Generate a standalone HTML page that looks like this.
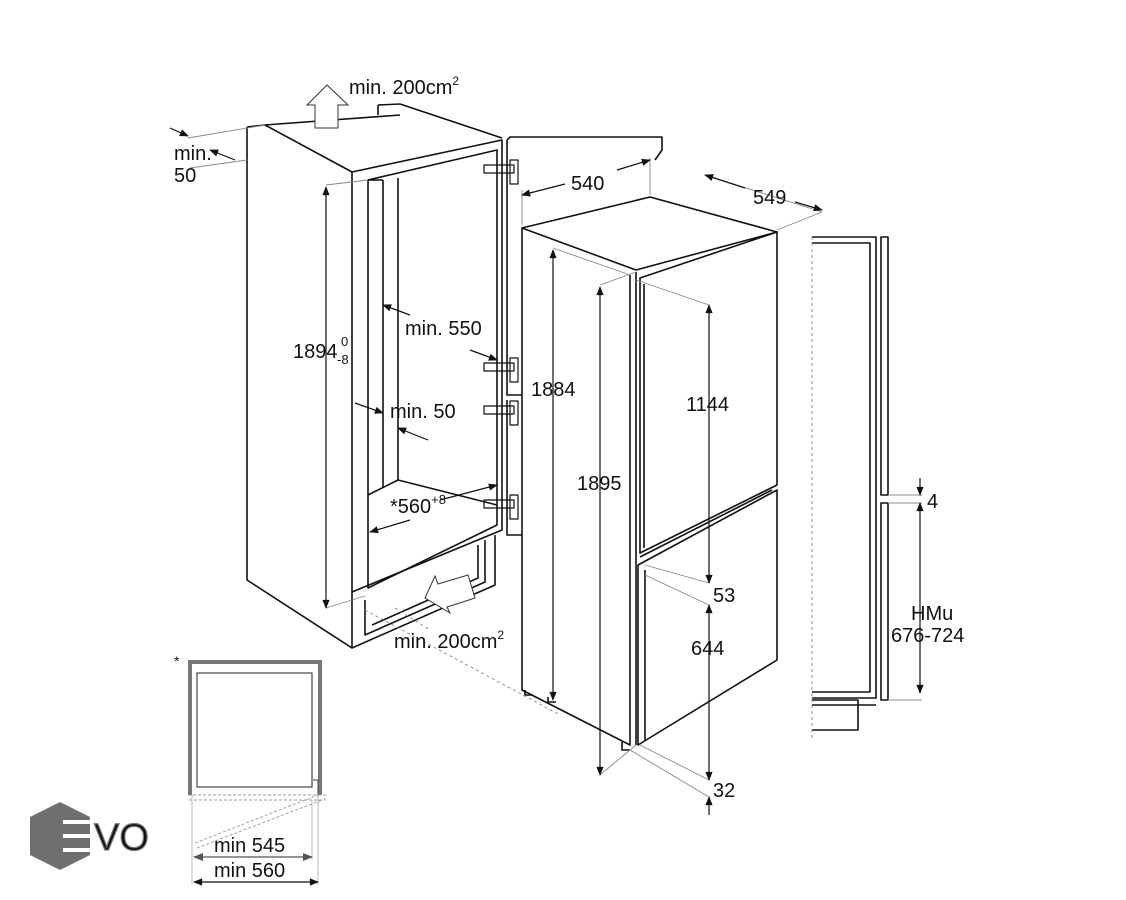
<!DOCTYPE html>
<html><head><meta charset="utf-8"><style>
html,body{margin:0;padding:0;background:#fff;}
svg{display:block;}
text{font-family:"Liberation Sans",Arial,sans-serif;fill:#111;}
</style></head><body>
<svg width="1126" height="900" viewBox="0 0 1126 900" xmlns="http://www.w3.org/2000/svg">
<defs>
<marker id="a" viewBox="0 0 10 10" refX="9" refY="5" markerWidth="12" markerHeight="9" orient="auto-start-reverse" markerUnits="userSpaceOnUse"><path d="M0,1 L10,5 L0,9 z" fill="#111"/></marker>
<marker id="g" viewBox="0 0 10 10" refX="9" refY="5" markerWidth="14" markerHeight="10" orient="auto-start-reverse" markerUnits="userSpaceOnUse"><path d="M0,1 L10,5 L0,9 z" fill="#555"/></marker>
</defs>
<g fill="none" stroke="#111" stroke-width="1.6" stroke-linejoin="round">
<path d="M247,127 L265,125 L352,172"/>
<path d="M247,127 L247,580 L352,648"/>
<path d="M378,105 L378,115 M378,105 L400,104 L502,138"/>
<path d="M265,125 L400,115"/>
<path d="M352,172 L502,140 L502,530 L352,592 Z"/>
<path d="M368,180 L497,150 L497,525 L368,588 Z"/>
<path d="M383,180 L383,488 M368,180 L383,180"/>
<path d="M398,178 L398,480"/>
<path d="M368,495 L398,480 L497,505"/>
<path d="M352,592 L352,648 L495,585 L495,535"/>
<path d="M365,600 L365,635 L485,582 L485,540 M478,545 L478,578 L372,625"/>
<g stroke-width="1.2">
<rect x="484" y="165" width="30" height="8"/><rect x="510" y="160" width="8" height="24"/>
<rect x="484" y="363" width="30" height="8"/><rect x="510" y="358" width="8" height="24"/>
<rect x="484" y="406" width="30" height="8"/><rect x="510" y="401" width="8" height="24"/>
<rect x="484" y="500" width="30" height="8"/><rect x="510" y="495" width="8" height="24"/>
</g>
<path d="M507,140 L510,137 L662,137 L662,150 L655,160"/>
<path d="M507,140 L507,395 L522,395 M507,400 L507,535 L522,535"/>
<path d="M522,228 L650,197 L777,232 L636,270 Z"/>
<path d="M522,228 L522,690 L630,745 L630,275"/>
<path d="M636,272 L636,745"/>
<path d="M640,278 L777,232 L777,485 L640,553 Z"/>
<path d="M644,284 L644,548"/>
<path d="M638,565 L777,490 L777,660 L638,745 Z"/>
<path d="M645,570 L645,740"/>
<path d="M640,557 L772,490"/>
<path d="M525,690 L525,695 L532,695 M548,697 L548,702 L556,702 M622,742 L622,750 L630,750"/>
<path d="M812,237 L876,237 L876,698 L812,698"/>
<path d="M812,243 L870,243 L870,692 L812,692"/>
<path d="M881,237 L888,237 L888,495 L881,495 Z"/>
<path d="M881,503 L888,503 L888,700 L881,700 Z"/>
<path d="M812,705 L876,705 M812,700 L858,700 L858,730 L812,730"/>
</g>
<g stroke="#888" stroke-width="0.9" fill="none">
<path d="M812,237 L812,740" stroke-dasharray="3,3"/>
<path d="M365,610 L560,715 M395,608 L430,630" stroke-dasharray="3,3"/>
<path d="M522,225 L522,190 M650,195 L650,158 M705,175 L822,212 M777,230 L822,212 M553,248 L630,275"/>
<path d="M600,285 L636,272 M636,280 L709,305 M645,575 L709,605 M645,565 L709,583 M600,775 L636,745 M640,745 L709,780 M630,750 L709,797"/>
<path d="M888,495 L922,495 M888,503 L922,503 M888,700 L922,700"/>
<path d="M326,185 L368,180 M326,608 L365,596"/>
<path d="M188,138 L265,125 M190,168 L247,160"/>
</g>
<g stroke="#111" stroke-width="1.2" fill="none">
<line x1="553" y1="250" x2="553" y2="700" marker-start="url(#a)" marker-end="url(#a)"/>
<line x1="600" y1="287" x2="600" y2="775" marker-start="url(#a)" marker-end="url(#a)"/>
<line x1="709" y1="305" x2="709" y2="583" marker-start="url(#a)" marker-end="url(#a)"/>
<line x1="709" y1="605" x2="709" y2="780" marker-start="url(#a)" marker-end="url(#a)"/>
<line x1="709" y1="797" x2="709" y2="815" marker-start="url(#a)"/>
<line x1="920" y1="478" x2="920" y2="495" marker-end="url(#a)"/>
<line x1="920" y1="503" x2="920" y2="693" marker-start="url(#a)" marker-end="url(#a)"/>
<line x1="326" y1="187" x2="326" y2="608" marker-start="url(#a)" marker-end="url(#a)"/>
<path d="M522,195 L565,184" marker-start="url(#a)"/><path d="M617,170 L650,160" marker-end="url(#a)"/>
<path d="M705,175 L745,188" marker-start="url(#a)"/><path d="M795,202 L822,210" marker-end="url(#a)"/>
<line x1="170" y1="128" x2="188" y2="136" marker-end="url(#a)"/>
<line x1="235" y1="160" x2="210" y2="150" marker-end="url(#a)"/>
<line x1="410" y1="315" x2="383" y2="305" marker-end="url(#a)"/>
<line x1="470" y1="350" x2="497" y2="360" marker-end="url(#a)"/>
<line x1="355" y1="403" x2="383" y2="413" marker-end="url(#a)"/>
<line x1="428" y1="440" x2="398" y2="428" marker-end="url(#a)"/>
<path d="M440,500 L497,485" marker-end="url(#a)"/><path d="M410,520 L370,532" marker-end="url(#a)"/>
</g>
<path d="M315,128 L315,105 L307,105 L327,85 L348,105 L338,105 L338,128 Z" fill="#fff" stroke="#333" stroke-width="1"/>
<path d="M425,598 L435,576 L438,584 L468,575 L475,598 L447,607 L450,613 Z" fill="#fff" stroke="#333" stroke-width="1"/>
<g font-size="20">
<text x="349" y="94">min. 200cm<tspan font-size="12" dy="-9">2</tspan></text>
<text x="174" y="160">min.</text><text x="174" y="182">50</text>
<text x="293" y="358">1894</text><text x="341" y="346" font-size="13">0</text><text x="337" y="364" font-size="13">-8</text>
<text x="405" y="335">min. 550</text>
<text x="390" y="418">min. 50</text>
<text x="390" y="513">*560<tspan font-size="13" dy="-9">+8</tspan></text>
<text x="394" y="648">min. 200cm<tspan font-size="12" dy="-9">2</tspan></text>
<text x="571" y="190">540</text>
<text x="753" y="204">549</text>
<text x="531" y="396">1884</text>
<text x="577" y="490">1895</text>
<text x="686" y="411">1144</text>
<text x="713" y="602">53</text>
<text x="691" y="655">644</text>
<text x="713" y="797">32</text>
<text x="927" y="508">4</text>
<text x="911" y="620">HMu</text>
<text x="891" y="642">676-724</text>
</g>
<text x="174" y="666" font-size="14">*</text>
<path d="M188,660 L322,660 L322,795 L318,795 L318,664 L192,664 L192,795 L188,795 Z" fill="#777"/>
<rect x="197" y="673" width="115" height="114" fill="none" stroke="#444" stroke-width="1.2"/>
<path d="M197,787 L312,787 M313,780 L318,780 L318,795" stroke="#444" fill="none"/>
<g stroke="#999" stroke-width="0.9" fill="none" stroke-dasharray="3,2">
<path d="M188,795 L325,795 L325,800 L188,800"/>
<path d="M195,843 L318,795 M197,848 L322,800"/>
</g>
<path d="M192,795 L192,885 M318,795 L318,885 M312,800 L312,860" stroke="#aaa" stroke-width="0.8"/>
<line x1="194" y1="857" x2="312" y2="857" stroke="#555" stroke-width="1.2" marker-start="url(#g)" marker-end="url(#g)"/>
<line x1="194" y1="882" x2="318" y2="882" stroke="#111" stroke-width="1.2" marker-start="url(#a)" marker-end="url(#a)"/>
<text x="214" y="852" font-size="20" fill="#555">min 545</text>
<text x="214" y="877" font-size="20">min 560</text>
<path d="M60,802 L90,817 L90,855 L60,870 L30,855 L30,817 Z" fill="#707070"/>
<path d="M63,822 L90,822 M63,836 L90,836 M63,850 L90,850" stroke="#fff" stroke-width="4"/>
<text x="94" y="850" font-size="38" fill="#fff" stroke="#777" stroke-width="1.2">VO</text>
</svg>
</body></html>
